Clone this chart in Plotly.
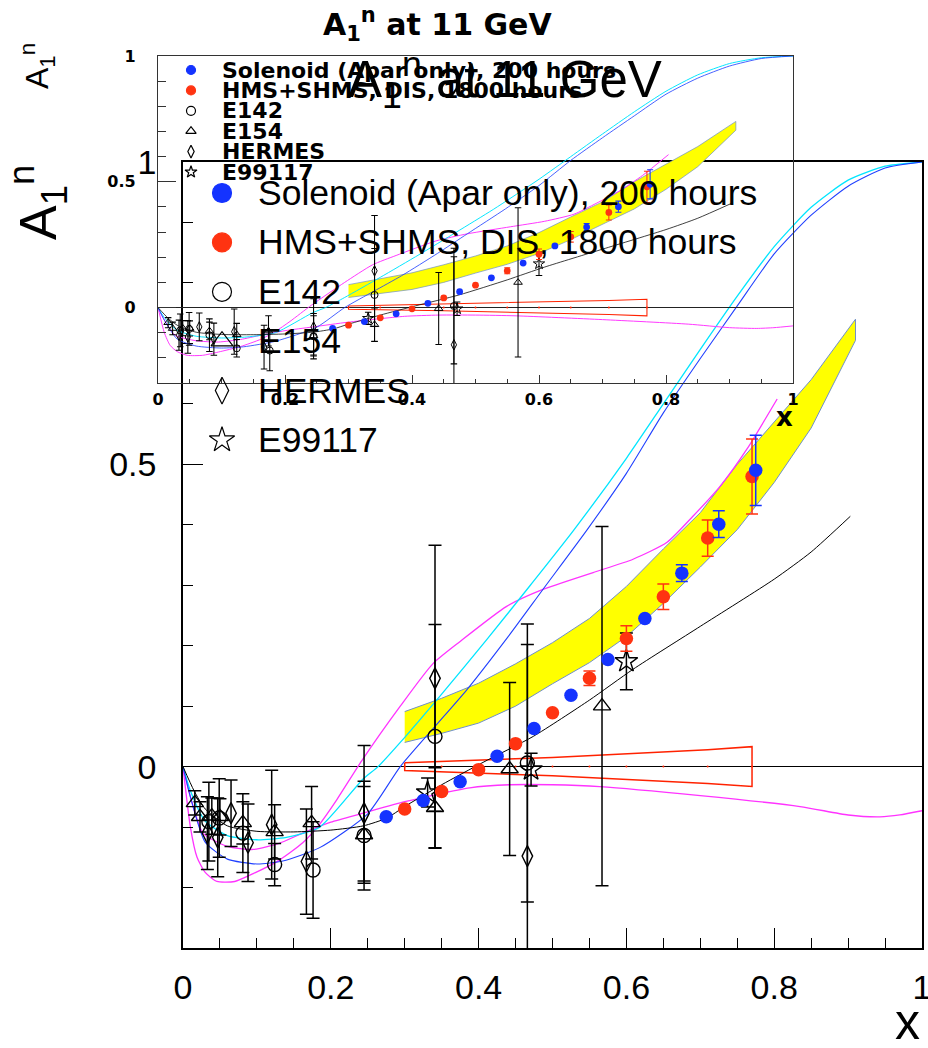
import plotly.graph_objects as go

W, H = 928, 1048

# ---------------- data ----------------
sol_x = [0.275, 0.325, 0.375, 0.425, 0.475, 0.525, 0.575, 0.625, 0.675, 0.725, 0.775]
sol_y = [-0.083, -0.056, -0.025, 0.017, 0.063, 0.118, 0.177, 0.245, 0.320, 0.401, 0.490]
sol_err = [0, 0, 0, 0, 0, 0, 0, 0, 0.014, 0.022, 0.058]

hms_x = [0.30, 0.35, 0.40, 0.45, 0.50, 0.55, 0.60, 0.65, 0.71, 0.77]
hms_y = [-0.070, -0.041, -0.005, 0.038, 0.089, 0.146, 0.212, 0.281, 0.378, 0.480]
hms_err = [0, 0, 0, 0, 0, 0.012, 0.021, 0.021, 0.030, 0.062]
hms_sys = [0.0065, 0.009, 0.011, 0.013, 0.015, 0.018, 0.021, 0.024, 0.028, 0.033]

band_x = [0.30, 0.35, 0.40, 0.45, 0.50, 0.55, 0.60, 0.65, 0.70, 0.75, 0.80, 0.85, 0.91]
band_hi = [0.091, 0.113, 0.138, 0.170, 0.205, 0.245, 0.298, 0.360, 0.420, 0.500, 0.570, 0.640, 0.740]
band_lo = [0.040, 0.055, 0.072, 0.100, 0.137, 0.172, 0.215, 0.270, 0.330, 0.392, 0.470, 0.560, 0.705]

black_x = [0, 0.015, 0.03, 0.06, 0.1, 0.15, 0.2, 0.244, 0.276, 0.30, 0.35, 0.406, 0.474, 0.55, 0.609, 0.70, 0.80, 0.85, 0.903]
black_y = [0, -0.04, -0.07, -0.098, -0.107, -0.108, -0.105, -0.098, -0.085, -0.066, -0.03, 0.007, 0.05, 0.11, 0.161, 0.232, 0.31, 0.355, 0.414]

blue_x = [0, 0.01, 0.03, 0.06, 0.1, 0.135, 0.185, 0.25, 0.294, 0.34, 0.384, 0.44, 0.487, 0.547, 0.6, 0.65, 0.7, 0.75, 0.8, 0.85, 0.9, 0.95, 1.0]
blue_y = [0, -0.05, -0.125, -0.153, -0.161, -0.156, -0.134, -0.078, 0.0, 0.065, 0.127, 0.215, 0.293, 0.392, 0.485, 0.585, 0.675, 0.762, 0.848, 0.912, 0.96, 0.99, 1.0]

cyan_x = [0, 0.01, 0.03, 0.06, 0.1, 0.14, 0.185, 0.244, 0.264, 0.294, 0.35, 0.411, 0.47, 0.528, 0.6, 0.65, 0.7, 0.75, 0.8, 0.85, 0.9, 0.95, 1.0]
cyan_y = [0, -0.04, -0.09, -0.114, -0.121, -0.117, -0.1, -0.02, 0.0, 0.04, 0.12, 0.21, 0.30, 0.39, 0.51, 0.6, 0.69, 0.778, 0.86, 0.925, 0.97, 0.993, 1.0]

mag1_x = [0, 0.01, 0.019, 0.03, 0.046, 0.07, 0.095, 0.13, 0.162, 0.185, 0.208, 0.242, 0.294, 0.338, 0.375, 0.438, 0.487, 0.555, 0.609, 0.655, 0.69, 0.727, 0.763, 0.804]
mag1_y = [0, -0.1, -0.15, -0.175, -0.19, -0.19, -0.177, -0.155, -0.126, -0.095, -0.055, 0.01, 0.10, 0.17, 0.207, 0.265, 0.293, 0.321, 0.343, 0.371, 0.414, 0.464, 0.525, 0.608]

mag2_x = [0, 0.01, 0.027, 0.06, 0.095, 0.13, 0.162, 0.2, 0.244, 0.3, 0.388, 0.442, 0.5, 0.564, 0.7, 0.835, 0.9, 0.943, 0.97, 1.0]
mag2_y = [0, -0.05, -0.11, -0.132, -0.137, -0.127, -0.11, -0.092, -0.077, -0.058, -0.035, -0.03, -0.03, -0.033, -0.048, -0.066, -0.08, -0.083, -0.08, -0.073]

e142_x = [0.035, 0.049, 0.081, 0.124, 0.176, 0.245, 0.341, 0.466]
e142_y = [-0.091, -0.085, -0.11, -0.162, -0.171, -0.114, 0.05, 0.006]
e142_err = [0.065, 0.065, 0.065, 0.035, 0.08, 0.09, 0.185, 0.23]

e154_x = [0.016, 0.023, 0.039, 0.05, 0.081, 0.124, 0.174, 0.245, 0.341, 0.442, 0.567]
e154_y = [-0.06, -0.083, -0.082, -0.083, -0.093, -0.108, -0.093, -0.113, -0.068, -0.004, 0.10]
e154_err = [0.02, 0.025, 0.03, 0.03, 0.035, 0.045, 0.06, 0.08, 0.066, 0.143, 0.297]

herm_x = [0.033, 0.047, 0.065, 0.088, 0.12, 0.167, 0.245, 0.341, 0.466]
herm_y = [-0.11, -0.117, -0.077, -0.126, -0.096, -0.157, -0.077, 0.146, -0.148]
herm_err = [0.06, 0.065, 0.055, 0.064, 0.09, 0.087, 0.112, 0.22, 0.35]

e99_x = [0.331, 0.471, 0.60]
e99_y = [-0.043, -0.005, 0.174]
e99_err = [0.024, 0.027, 0.047]

legend_names = ["Solenoid (Apar only), 200 hours", "HMS+SHMS, DIS, 1800 hours",
                "E142", "E154", "HERMES", "E99117"]
title_text = "A<sub>1</sub><sup>n</sup> at 11 GeV"
ytitle_text = "A<sub>1</sub><sup>n</sup>"

BLUE = "#1433ff"
RED = "#ff3311"

fig = go.Figure()


def add_set(xa, ya, s):
    """s = scale factor (1 for big pad, ~0.5 for small pad)"""
    fig.add_trace(go.Scatter(x=band_x + band_x[::-1], y=band_hi + band_lo[::-1],
                             fill="toself", fillcolor="#ffff00", mode="lines",
                             line=dict(color="#7090c8", width=1 * max(s, 0.7)),
                             xaxis=xa, yaxis=ya, showlegend=False, hoverinfo="skip"))
    wx = hms_x + hms_x[::-1] + [hms_x[0]]
    wy = hms_sys + [-v for v in hms_sys[::-1]] + [hms_sys[0]]
    fig.add_trace(go.Scatter(x=wx, y=wy, mode="lines",
                             line=dict(color="#ff2200", width=1.5 * max(s, 0.7)),
                             xaxis=xa, yaxis=ya, showlegend=False, hoverinfo="skip"))
    fig.add_trace(go.Scatter(x=hms_x, y=[0] * len(hms_x), mode="markers",
                             marker=dict(color="#ff2200", size=2),
                             xaxis=xa, yaxis=ya, showlegend=False, hoverinfo="skip"))
    for cx, cy, col, lw in [(mag2_x, mag2_y, "#ff33ff", 1.3),
                            (mag1_x, mag1_y, "#ff33ff", 1.3),
                            (cyan_x, cyan_y, "#00e5ff", 1.3),
                            (blue_x, blue_y, "#2040ff", 1.1),
                            (black_x, black_y, "#000000", 1.0)]:
        fig.add_trace(go.Scatter(x=cx, y=cy, mode="lines",
                                 line=dict(color=col, width=lw * max(s, 0.75), shape="spline", smoothing=0.6),
                                 xaxis=xa, yaxis=ya, showlegend=False, hoverinfo="skip"))
    for dx, dy, de, sym, ms in [(e142_x, e142_y, e142_err, "circle-open", 14),
                                (e154_x, e154_y, e154_err, "triangle-up-open", 15),
                                (herm_x, herm_y, herm_err, "diamond-tall-open", 15),
                                (e99_x, e99_y, e99_err, "star-open", 17)]:
        fig.add_trace(go.Scatter(x=dx, y=dy, mode="markers",
                                 marker=dict(symbol=sym, size=ms * s, color="black",
                                             line=dict(color="black", width=1.4 * max(s, 0.7))),
                                 error_y=dict(type="data", array=de, color="black",
                                              thickness=1.5 * max(s, 0.7), width=6.5 * s),
                                 xaxis=xa, yaxis=ya, showlegend=False, hoverinfo="skip"))
    for dx, dy, de, col in [(hms_x, hms_y, hms_err, RED), (sol_x, sol_y, sol_err, BLUE)]:
        fig.add_trace(go.Scatter(x=dx, y=dy, mode="markers",
                                 marker=dict(symbol="circle", size=13.5 * s, color=col),
                                 error_y=dict(type="data", array=de, color=col,
                                              thickness=1.5 * max(s, 0.7), width=6 * s),
                                 xaxis=xa, yaxis=ya, showlegend=False, hoverinfo="skip"))


add_set("x", "y", 1.0)
add_set("x2", "y2", 0.5)

# ---------------- manual legends (pixel overlay axes) ----------------
leg_syms = [("circle", BLUE), ("circle", RED), ("circle-open", "black"),
            ("triangle-up-open", "black"), ("diamond-tall-open", "black"), ("star-open", "black")]


def add_legend(x_sym, x_txt, y0, dy, msize, font, bold):
    for i, (name, (sym, col)) in enumerate(zip(legend_names, leg_syms)):
        yy = y0 + dy * i
        fig.add_trace(go.Scatter(x=[x_sym], y=[yy], mode="markers",
                                 marker=dict(symbol=sym, size=msize, color=col,
                                             line=dict(color=col, width=1.2)),
                                 xaxis="x3", yaxis="y3", showlegend=False, hoverinfo="skip",
                                 cliponaxis=False))
        fig.add_annotation(x=x_txt, y=yy, xref="x3", yref="y3", text=(f"<b>{name}</b>" if bold else name),
                           showarrow=False, xanchor="left", yanchor="middle", font=font)


add_legend(191, 220, 70, 20.4, 9, dict(family="DejaVu Sans", size=22, color="black"), True)
add_legend(222, 256, 193, 49.4, 19, dict(family="Liberation Sans", size=35.5, color="black"), False)

# titles
fig.add_annotation(x=437, y=24, xref="x3", yref="y3", text=f"<b>{title_text}</b>", showarrow=False,
                   xanchor="center", yanchor="middle",
                   font=dict(family="DejaVu Sans", size=30, color="black"))
fig.add_annotation(x=505, y=80, xref="x3", yref="y3", text=title_text, showarrow=False,
                   xanchor="center", yanchor="middle",
                   font=dict(family="Liberation Sans", size=51, color="black"))
fig.add_annotation(x=38, y=203, xref="x3", yref="y3", text=ytitle_text, showarrow=False, textangle=-90,
                   xanchor="center", yanchor="middle",
                   font=dict(family="Liberation Sans", size=52, color="black"))
fig.add_annotation(x=37, y=66, xref="x3", yref="y3", text=ytitle_text, showarrow=False, textangle=-90,
                   xanchor="center", yanchor="middle",
                   font=dict(family="Liberation Sans", size=32, color="black"))
fig.add_annotation(x=922, y=1022, xref="x3", yref="y3", text="x", showarrow=False,
                   xanchor="right", yanchor="middle",
                   font=dict(family="Liberation Sans", size=50, color="black"))
fig.add_annotation(x=795, y=417, xref="x3", yref="y3", text="<b>x</b>", showarrow=False,
                   xanchor="right", yanchor="middle",
                   font=dict(family="DejaVu Sans", size=26, color="black"))

big_font = dict(family="Liberation Sans", size=34, color="black")
small_font = dict(family="DejaVu Sans", size=16, color="black", weight="bold")

fig.update_layout(
    width=W, height=H, margin=dict(l=0, r=0, t=0, b=0, pad=0, autoexpand=False),
    paper_bgcolor="white", plot_bgcolor="rgba(0,0,0,0)",
    showlegend=False,
    xaxis=dict(domain=[183 / W, 922 / W], range=[0, 1], anchor="y", automargin=False,
               ticklabeloverflow="allow",
               showline=True, linecolor="black", linewidth=1.5, mirror=True,
               ticks="inside", ticklen=20, tickwidth=1, tickcolor="black", dtick=0.2, tick0=0,
               minor=dict(ticks="inside", ticklen=10, dtick=0.05, tickcolor="black", tickwidth=1),
               showgrid=False, zeroline=False, tickfont=big_font, ticklabelstandoff=8),
    yaxis=dict(domain=[1 - 948 / H, 1 - 162 / H], range=[-0.3, 1.0], anchor="x", automargin=False,
               ticklabeloverflow="allow",
               showline=True, linecolor="black", linewidth=1.5, mirror=True,
               ticks="inside", ticklen=20, tickwidth=1, tickcolor="black", dtick=0.5, tick0=0,
               minor=dict(ticks="inside", ticklen=10, dtick=0.1, tickcolor="black", tickwidth=1),
               showgrid=False, zeroline=True, zerolinecolor="black", zerolinewidth=1,
               tickfont=big_font, ticklabelstandoff=18),
    xaxis2=dict(domain=[158 / W, 793 / W], range=[0, 1], anchor="y2", automargin=False,
                ticklabeloverflow="allow",
                showline=True, linecolor="#333333", linewidth=1.2, mirror=True,
                ticks="inside", ticklen=8, tickwidth=1, tickcolor="#333333", dtick=0.2, tick0=0,
                minor=dict(ticks="inside", ticklen=4, dtick=0.05, tickcolor="#333333", tickwidth=1),
                showgrid=False, zeroline=False, tickfont=small_font, ticklabelstandoff=2),
    yaxis2=dict(domain=[1 - 383 / H, 1 - 56 / H], range=[-0.3, 1.0], anchor="x2", automargin=False,
                ticklabeloverflow="allow",
                showline=True, linecolor="#333333", linewidth=1.2, mirror=True,
                ticks="inside", ticklen=18, tickwidth=1, tickcolor="#333333", dtick=0.5, tick0=0,
                minor=dict(ticks="inside", ticklen=8, dtick=0.1, tickcolor="#333333", tickwidth=1),
                showgrid=False, zeroline=True, zerolinecolor="#222222", zerolinewidth=1,
                tickfont=small_font, ticklabelstandoff=18),
    xaxis3=dict(domain=[0, 1], range=[0, W], visible=False, anchor="y3", fixedrange=True, automargin=False),
    yaxis3=dict(domain=[0, 1], range=[H, 0], visible=False, anchor="x3", fixedrange=True, automargin=False),
)

fig.write_html("out.html")
